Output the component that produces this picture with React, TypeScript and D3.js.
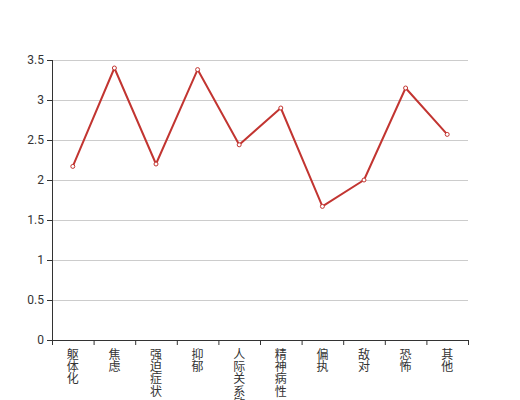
import React from "react";
import * as d3 from "d3";

const categories = ["躯体化", "焦虑", "强迫症状", "抑郁", "人际关系敏感", "精神病性", "偏执", "敌对", "恐怖", "其他"];
const values = [2.17, 3.4, 2.2, 3.38, 2.44, 2.9, 1.67, 2.0, 3.15, 2.57];
const yTicks = [0, 0.5, 1, 1.5, 2, 2.5, 3, 3.5];

const W = 520, H = 400;
const left = 52, right = 468, top = 60, bottom = 340;
const font = "Roboto, 'Noto Sans CJK SC', sans-serif";

export default function App() {
  const x = d3.scaleBand<string>().domain(categories).range([left, right]);
  const y = d3.scaleLinear().domain([0, 3.5]).range([bottom, top]);
  const line = d3.line<number>()
    .x((_, i) => (x(categories[i]) as number) + x.bandwidth() / 2)
    .y((d) => y(d));
  const boundaries = categories.map((c) => x(c) as number).concat([right]);
  return (
    <svg width={W} height={H} style={{ position: "absolute", left: 0, top: 0, background: "#fff" }}>
      {yTicks.map((t) => (
        <g key={t}>
          {t > 0 && <line x1={left} x2={right} y1={y(t) + 0.5} y2={y(t) + 0.5} stroke="#ccc" />}
          <line x1={left - 5} x2={left} y1={y(t) + 0.5} y2={y(t) + 0.5} stroke="#333" />
          <text x={left - 8} y={y(t)} dy="0.35em" textAnchor="end" fontSize={12} fill="#333" fontFamily={font}>{t}</text>
        </g>
      ))}
      <line x1={left + 0.5} x2={left + 0.5} y1={top} y2={bottom} stroke="#333" />
      <line x1={left} x2={right} y1={bottom + 0.5} y2={bottom + 0.5} stroke="#333" />
      {boundaries.map((b, i) => (
        <line key={i} x1={b + 0.5} x2={b + 0.5} y1={bottom} y2={bottom + 5} stroke="#333" />
      ))}
      {categories.map((c) => (
        <text key={c} x={(x(c) as number) + x.bandwidth() / 2} y={bottom + 8} fontSize={12} fill="#333" fontFamily={font} textAnchor="middle">
          {Array.from(c).map((ch, i) => (
            <tspan key={i} x={(x(c) as number) + x.bandwidth() / 2} dy={i === 0 ? "0.9em" : 12.3}>{ch}</tspan>
          ))}
        </text>
      ))}
      <path d={line(values) || ""} fill="none" stroke="#c23531" strokeWidth={2} strokeLinejoin="round" />
      {values.map((v, i) => (
        <circle key={i} cx={(x(categories[i]) as number) + x.bandwidth() / 2} cy={y(v)} r={2} fill="#fff" stroke="#c23531" strokeWidth={1} />
      ))}
    </svg>
  );
}
